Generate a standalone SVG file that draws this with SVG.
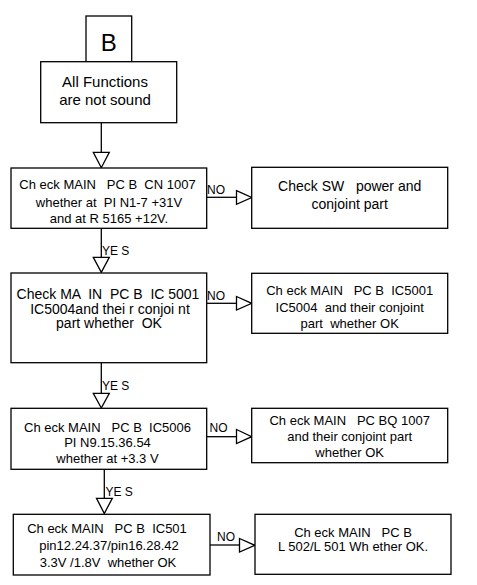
<svg xmlns="http://www.w3.org/2000/svg" width="477" height="585" viewBox="0 0 477 585">
<style>
.box{fill:#fff;stroke:#000;stroke-width:1.3}
.ln{fill:none;stroke:#000;stroke-width:1.3}
.tri{fill:#fff;stroke:#000;stroke-width:1.3;stroke-linejoin:miter}
text{font-family:"Liberation Sans",Arial,sans-serif;fill:#000;white-space:pre}
.c{text-anchor:middle}
.t13{font-size:13px}
.t14{font-size:14px}
.lbl{font-size:12px}
</style>
<rect width="477" height="585" fill="#fff"/>
<g id="connectors">
<line class="ln" x1="101.3" y1="122.7" x2="101.3" y2="152.3"/>
<polygon class="tri" points="93.3,152.3 109.3,152.3 101.3,167.7"/>
<line class="ln" x1="101.3" y1="228.3" x2="101.3" y2="257.3"/>
<polygon class="tri" points="93.3,257.3 109.3,257.3 101.3,272.3"/>
<text class="lbl" x="102" y="255">YE S</text>
<line class="ln" x1="101.3" y1="362.7" x2="101.3" y2="393.3"/>
<polygon class="tri" points="93.3,393.3 109.3,393.3 101.3,408"/>
<text class="lbl" x="102" y="390">YE S</text>
<line class="ln" x1="104.3" y1="469.3" x2="104.3" y2="498.3"/>
<polygon class="tri" points="96.5,498.3 112.3,498.3 104.3,513.5"/>
<text class="lbl" x="105.5" y="495.7">YE S</text>
<line class="ln" x1="206.7" y1="197.3" x2="236.5" y2="197.3"/>
<polygon class="tri" points="236.5,190.7 251.7,197.5 236.5,204.3"/>
<text class="lbl" x="207" y="194">NO</text>
<line class="ln" x1="206.7" y1="303.3" x2="236.5" y2="303.3"/>
<polygon class="tri" points="236.5,296.5 251.7,303.3 236.5,310.1"/>
<text class="lbl" x="207" y="300">NO</text>
<line class="ln" x1="206.7" y1="436.7" x2="236.5" y2="436.7"/>
<polygon class="tri" points="236.5,429.5 251.7,436.7 236.5,443.5"/>
<text class="lbl" x="209.5" y="431.7">NO</text>
<line class="ln" x1="210" y1="545" x2="239.5" y2="545"/>
<polygon class="tri" points="239.5,538.5 254.8,545.3 239.5,552"/>
<text class="lbl" x="217" y="540.5">NO</text>
</g>
<g id="nodeB">
<rect class="box" x="86" y="16" width="45.7" height="45.7"/>
<text class="c" x="108.8" y="50.7" font-size="24">B</text>
</g>
<g id="start">
<rect class="box" x="40.7" y="61.7" width="136" height="61"/>
<text class="c" x="105" y="87.3" font-size="15">All Functions</text>
<text class="c" x="105" y="105" font-size="15">are not sound</text>
</g>
<g id="check1">
<rect class="box" x="11" y="168" width="195.7" height="60.3"/>
<text class="c t13" x="107.5" y="189.3">Ch eck MAIN   PC B  CN 1007</text>
<text class="c t13" x="109" y="206.7">whether at  PI N1-7 +31V</text>
<text class="c t13" x="109" y="223.3">and at R 5165 +12V.</text>
</g>
<g id="check2">
<rect class="box" x="11" y="273" width="195.7" height="89.7"/>
<text class="c t14" x="108" y="299">Check MA  IN  PC B  IC 5001</text>
<text class="c t14" x="110" y="313.5">IC5004and thei r conjoi nt</text>
<text class="c t14" x="109" y="328.3">part whether  OK</text>
</g>
<g id="check3">
<rect class="box" x="11" y="408.3" width="195.7" height="61"/>
<text class="c t13" x="107.5" y="431.7">Ch eck MAIN   PC B  IC5006</text>
<text class="c t13" x="107.5" y="447.3">PI N9.15.36.54</text>
<text class="c t13" x="107.5" y="463.3">whether at +3.3 V</text>
</g>
<g id="check4">
<rect class="box" x="13.3" y="514.3" width="196.7" height="60.7"/>
<text class="c t13" x="107" y="533.3">Ch eck MAIN   PC B  IC501</text>
<text class="c t13" x="109" y="550">pin12.24.37/pin16.28.42</text>
<text class="c t13" x="108" y="566.7">3.3V /1.8V  whether OK</text>
</g>
<g id="result1">
<rect class="box" x="251.7" y="167.3" width="196" height="61"/>
<text class="c t14" x="349.7" y="190.7">Check SW   power and</text>
<text class="c t14" x="349.7" y="209.3">conjoint part</text>
</g>
<g id="result2">
<rect class="box" x="251.7" y="273.3" width="196" height="60"/>
<text class="c t13" x="349.7" y="295">Ch eck MAIN   PC B  IC5001</text>
<text class="c t13" x="349.7" y="311.7">IC5004  and their conjoint</text>
<text class="c t13" x="349.7" y="328.3">part  whether OK</text>
</g>
<g id="result3">
<rect class="box" x="251.7" y="408.3" width="196" height="54.4"/>
<text class="c t13" x="349.7" y="425">Ch eck MAIN   PC BQ 1007</text>
<text class="c t13" x="349.7" y="440.7">and their conjoint part</text>
<text class="c t13" x="349.7" y="456.7">whether OK</text>
</g>
<g id="result4">
<rect class="box" x="255" y="514.3" width="196" height="60"/>
<text class="c t13" x="353" y="536.7">Ch eck MAIN   PC B</text>
<text class="c t13" x="353" y="550.7">L 502/L 501 Wh ether OK.</text>
</g>
</svg>
